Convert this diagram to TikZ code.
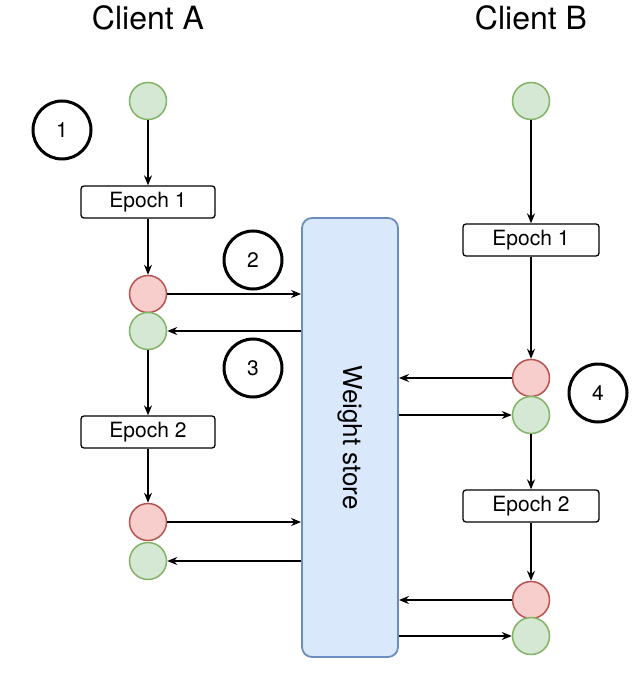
\documentclass[tikz,border=0pt]{standalone}
\usepackage{fontspec}
\setmainfont{TeX Gyre Heros}
\usetikzlibrary{arrows.meta}
\definecolor{gfill}{HTML}{D5E8D4}
\definecolor{gdraw}{HTML}{82B366}
\definecolor{rfill}{HTML}{F8CECC}
\definecolor{rdraw}{HTML}{B85450}
\definecolor{bfill}{HTML}{DAE8FC}
\definecolor{bdraw}{HTML}{6C8EBF}
\tikzset{
  wgreen/.style={circle, draw=gdraw, fill=gfill, line width=1.5pt, minimum size=37pt, inner sep=0pt},
  wred/.style={circle, draw=rdraw, fill=rfill, line width=1.5pt, minimum size=37pt, inner sep=0pt},
  epoch/.style={draw, line width=1.3pt, rounded corners=3pt, minimum width=134pt, minimum height=32pt, font=\fontsize{21}{23}\selectfont},
  stepno/.style={circle, draw, line width=3pt, minimum size=58pt, font=\fontsize{21}{23}\selectfont},
  title/.style={font=\fontsize{32}{36}\selectfont},
  arr/.style={-{Stealth[length=10pt,width=8pt]}, line width=1.4pt}
}
\begin{document}
\begin{tikzpicture}[x=1pt,y=-1pt]
    \useasboundingbox (0,0) rectangle (640,692);
    % Titles
    \node[title] at (148,18) {Client A};
    \node[title] at (531,18) {Client B};

    % Weight store
    \node[draw=bdraw, fill=bfill, line width=1.8pt, rounded corners=10pt, minimum width=96pt, minimum height=439pt] (store) at (350,437.5) {};
    \node[rotate=-90, font=\fontsize{26}{30}\selectfont] at (store.center) {Weight store};

    % Client A
    \node[wgreen] (a0) at (148,101) {};
    \node[epoch] (ae1) at (148,202) {Epoch 1};
    \node[wred] (ar1) at (148,294) {};
    \node[wgreen] (ag1) at (148,331) {};
    \node[epoch] (ae2) at (148,432) {Epoch 2};
    \node[wred] (ar2) at (148,522) {};
    \node[wgreen] (ag2) at (148,561) {};

    % Client B
    \node[wgreen] (b0) at (531,101) {};
    \node[epoch, minimum width=136pt] (be1) at (531,240) {Epoch 1};
    \node[wred] (br1) at (531,378) {};
    \node[wgreen] (bg1) at (531,415) {};
    \node[epoch, minimum width=136pt] (be2) at (531,506) {Epoch 2};
    \node[wred] (br2) at (531,600) {};
    \node[wgreen] (bg2) at (531,636) {};

    % Steps
    \node[stepno] at (62,130) {1};
    \node[stepno] at (253,260) {2};
    \node[stepno] at (253,368) {3};
    \node[stepno] at (598,393) {4};

    % Vertical flow
    \draw[arr] (a0) -- (ae1);
    \draw[arr] (ae1) -- (ar1);
    \draw[arr] (ag1) -- (ae2);
    \draw[arr] (ae2) -- (ar2);
    \draw[arr] (b0) -- (be1);
    \draw[arr] (be1) -- (br1);
    \draw[arr] (bg1) -- (be2);
    \draw[arr] (be2) -- (br2);

    % Exchange with the store
    \draw[arr] (ar1) -- (ar1 -| store.west);
    \draw[arr] (ag1 -| store.west) -- (ag1);
    \draw[arr] (ar2) -- (ar2 -| store.west);
    \draw[arr] (ag2 -| store.west) -- (ag2);
    \draw[arr] (br1) -- (br1 -| store.east);
    \draw[arr] (bg1 -| store.east) -- (bg1);
    \draw[arr] (br2) -- (br2 -| store.east);
    \draw[arr] (bg2 -| store.east) -- (bg2);
\end{tikzpicture}
\end{document}
